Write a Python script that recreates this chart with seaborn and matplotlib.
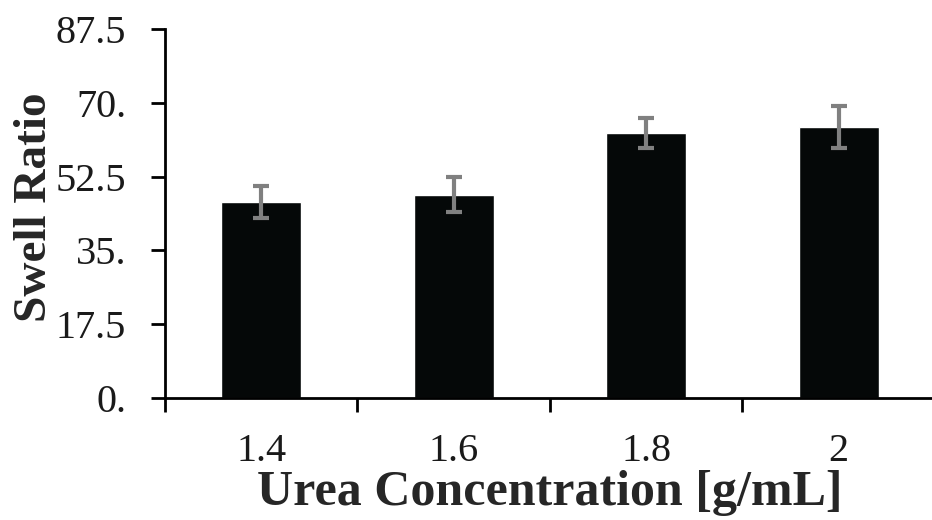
import matplotlib
matplotlib.use("Agg")
import matplotlib.pyplot as plt
import seaborn as sns
import pandas as pd

# values
concentrations = ["1.4", "1.6", "1.8", "2"]
swell_ratio = [46.5, 48.2, 62.8, 64.3]
swell_err = [3.8, 4.2, 3.5, 5.0]
y_ticks = [0, 17.5, 35, 52.5, 70, 87.5]
y_tick_labels = ["0.", "17.5", "35.", "52.5", "70.", "87.5"]

sns.set_theme(style="white")
plt.rcParams["font.family"] = ["Liberation Serif", "DejaVu Serif"]

df = pd.DataFrame({"conc": concentrations, "ratio": swell_ratio})

fig = plt.figure(figsize=(9.32, 5.2), dpi=100)
ax = fig.add_axes([0.177, 0.2346, 0.826, 0.7096])

sns.barplot(data=df, x="conc", y="ratio", color="#050808", width=0.415,
            saturation=1, errorbar=None, ax=ax)
ax.errorbar(range(len(concentrations)), swell_ratio, yerr=swell_err,
            fmt="none", ecolor="#808080", elinewidth=3, capsize=6, capthick=3)

ax.set_xlim(-0.5, len(concentrations) - 0.5)
ax.set_ylim(0, 87.5)
ax.set_yticks(y_ticks)
ax.set_yticklabels(y_tick_labels)

# category boundary ticks, Excel style
ax.set_xticks([i - 0.5 for i in range(len(concentrations) + 1)], minor=True)
ax.tick_params(axis="x", which="major", length=0, pad=25, labelsize=29, colors="#1a1a1a")
ax.tick_params(axis="x", which="minor", length=10, width=2, direction="out", bottom=True, color="black")
ax.tick_params(axis="y", which="major", length=10, width=2, direction="out", left=True,
               pad=18, labelsize=29, colors="#1a1a1a")
ax.tick_params(axis="both", color="black")

for side in ["top", "right"]:
    ax.spines[side].set_visible(False)
for side in ["left", "bottom"]:
    ax.spines[side].set_linewidth(2)
    ax.spines[side].set_color("black")

ax.set_xlabel("Urea Concentration [g/mL]", fontsize=36, fontweight="bold", labelpad=0)
ax.set_ylabel("Swell Ratio", fontsize=34, fontweight="bold")
ax.yaxis.set_label_coords(-0.142, 0.516)

fig.savefig("out.png", dpi=100)
